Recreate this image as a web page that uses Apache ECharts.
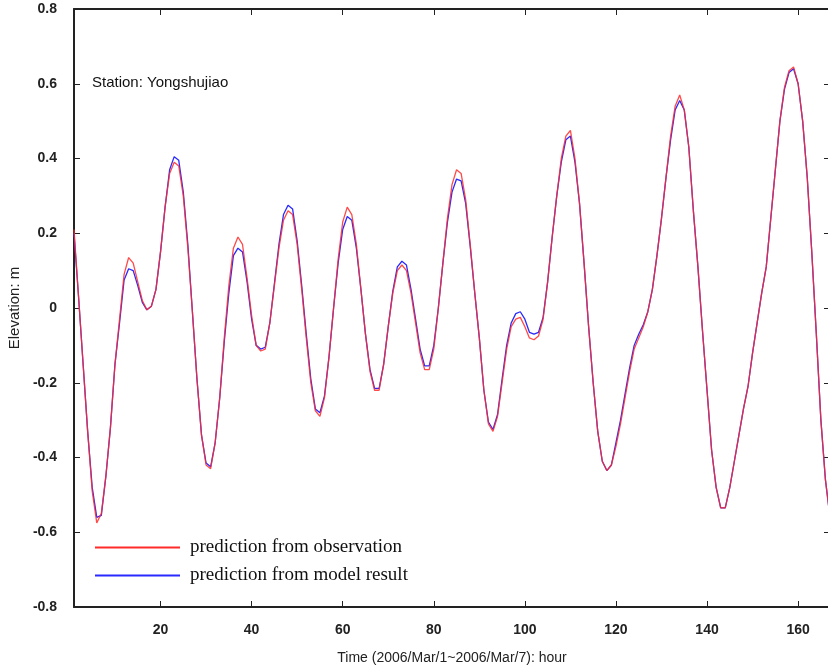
<!DOCTYPE html>
<html>
<head>
<meta charset="utf-8">
<script src="https://cdn.jsdelivr.net/npm/echarts@6/dist/echarts.min.js"></script>
<style>
html,body{margin:0;padding:0;background:#fff;}
#chart{width:828px;height:667px;}
</style>
</head>
<body>
<div id="chart"></div>
<script>
// Hours 1..167
const hours = [];
for (let h = 1; h <= 167; h++) hours.push(h);

const observation = [
  0.21, 0.03, -0.15, -0.33, -0.49, -0.575, -0.55, -0.45, -0.32, -0.15,
  -0.03, 0.09, 0.135, 0.12, 0.07, 0.02, -0.005, 0.005, 0.05, 0.15,
  0.27, 0.36, 0.39, 0.38, 0.30, 0.16, -0.01, -0.19, -0.34, -0.42,
  -0.43, -0.36, -0.24, -0.08, 0.06, 0.16, 0.19, 0.17, 0.08, -0.02,
  -0.10, -0.115, -0.11, -0.04, 0.06, 0.16, 0.235, 0.26, 0.25, 0.17,
  0.05, -0.08, -0.20, -0.275, -0.29, -0.24, -0.13, 0.0, 0.13, 0.23,
  0.27, 0.25, 0.17, 0.05, -0.07, -0.17, -0.22, -0.22, -0.15, -0.05,
  0.04, 0.10, 0.115, 0.10, 0.04, -0.04, -0.12, -0.165, -0.165, -0.11,
  0.0, 0.12, 0.24, 0.33, 0.37, 0.36, 0.29, 0.17, 0.04, -0.08,
  -0.22, -0.31, -0.33, -0.29, -0.20, -0.11, -0.05, -0.03, -0.025, -0.05,
  -0.08, -0.085, -0.075, -0.03, 0.07, 0.19, 0.30, 0.40, 0.46, 0.475,
  0.40, 0.28, 0.12, -0.05, -0.20, -0.33, -0.41, -0.435, -0.42, -0.37,
  -0.31, -0.24, -0.17, -0.11, -0.08, -0.05, -0.01, 0.05, 0.14, 0.24,
  0.35, 0.46, 0.54, 0.57, 0.53, 0.43, 0.26, 0.11, -0.06, -0.22,
  -0.38, -0.48, -0.535, -0.535, -0.48, -0.41, -0.34, -0.27, -0.21, -0.12,
  -0.04, 0.04, 0.11, 0.24, 0.37, 0.50, 0.59, 0.635, 0.645, 0.60,
  0.50, 0.35, 0.15, -0.07, -0.30, -0.46, -0.56
];

const model = [
  0.20, 0.03, -0.15, -0.33, -0.48, -0.56, -0.555, -0.45, -0.32, -0.15,
  -0.04, 0.075, 0.105, 0.10, 0.06, 0.015, -0.005, 0.005, 0.05, 0.15,
  0.27, 0.37, 0.405, 0.395, 0.31, 0.17, -0.01, -0.19, -0.34, -0.415,
  -0.425, -0.36, -0.24, -0.09, 0.04, 0.14, 0.16, 0.15, 0.07, -0.03,
  -0.10, -0.11, -0.105, -0.04, 0.065, 0.17, 0.25, 0.275, 0.265, 0.18,
  0.06, -0.07, -0.19, -0.27, -0.28, -0.235, -0.13, 0.0, 0.12, 0.21,
  0.245, 0.235, 0.16, 0.05, -0.07, -0.165, -0.215, -0.215, -0.15, -0.05,
  0.045, 0.11, 0.125, 0.115, 0.05, -0.03, -0.11, -0.155, -0.155, -0.10,
  0.0, 0.12, 0.23, 0.31, 0.345, 0.34, 0.28, 0.165, 0.04, -0.08,
  -0.22, -0.305, -0.325, -0.285, -0.19, -0.10, -0.04, -0.015, -0.01, -0.03,
  -0.065, -0.07, -0.065, -0.025, 0.07, 0.19, 0.30, 0.39, 0.45, 0.46,
  0.39, 0.28, 0.12, -0.05, -0.20, -0.33, -0.41, -0.435, -0.42, -0.36,
  -0.30, -0.23, -0.16, -0.10, -0.07, -0.045, -0.01, 0.05, 0.14, 0.24,
  0.35, 0.45, 0.53, 0.555, 0.53, 0.43, 0.26, 0.11, -0.06, -0.22,
  -0.38, -0.48, -0.535, -0.535, -0.48, -0.41, -0.34, -0.27, -0.21, -0.12,
  -0.04, 0.04, 0.11, 0.24, 0.37, 0.50, 0.585, 0.63, 0.64, 0.60,
  0.50, 0.35, 0.15, -0.07, -0.30, -0.46, -0.56
];

const xTicks = [20, 40, 60, 80, 100, 120, 140, 160];
const stationName = 'Station: Yongshujiao';
const seriesNames = ['prediction from observation', 'prediction from model result'];

const chart = echarts.init(document.getElementById('chart'), null, {renderer: 'canvas'});

const axisLineStyle = {color: '#222', width: 2};
const tickLabelStyle = {color: '#222', fontFamily: 'Liberation Sans, Arial, sans-serif', fontSize: 14, fontWeight: 'bold'};

const option = {
  backgroundColor: '#ffffff',
  animation: false,
  grid: {left: 74, right: -2, top: 9, bottom: 60, containLabel: false, outerBoundsMode: 'none'},
  legend: {
    orient: 'vertical',
    left: 95,
    top: 538,
    itemWidth: 85,
    itemHeight: 2,
    itemGap: 9,
    icon: 'rect',
    data: seriesNames,
    textStyle: {fontFamily: 'Liberation Serif, Times New Roman, serif', fontSize: 19, color: '#111', padding: [0,0,0,5]},
    padding: 0
  },
  xAxis: [
    {
      type: 'value', min: 1, max: 167, position: 'bottom',
      name: 'Time (2006/Mar/1~2006/Mar/7): hour',
      nameLocation: 'middle', nameGap: 44,
      nameTextStyle: {color: '#222', fontFamily: 'Liberation Sans, Arial, sans-serif', fontSize: 14},
      axisLine: {show: true, onZero: false, lineStyle: axisLineStyle},
      axisTick: {show: true, inside: true, length: 6, customValues: xTicks, lineStyle: {color: '#222', width: 1}},
      axisLabel: {show: true, customValues: xTicks, margin: 16, ...tickLabelStyle},
      splitLine: {show: false}
    },
    {
      type: 'value', min: 1, max: 167, position: 'top',
      axisLine: {show: true, onZero: false, lineStyle: axisLineStyle},
      axisTick: {show: true, inside: true, length: 6, customValues: xTicks, lineStyle: {color: '#222', width: 1}},
      axisLabel: {show: false},
      splitLine: {show: false}
    }
  ],
  yAxis: [
    {
      type: 'value', min: -0.8, max: 0.8, interval: 0.2, position: 'left',
      name: 'Elevation: m', nameLocation: 'middle', nameGap: 51, nameRotate: 90,
      nameTextStyle: {color: '#222', fontFamily: 'Liberation Sans, Arial, sans-serif', fontSize: 15},
      axisLine: {show: true, onZero: false, lineStyle: axisLineStyle},
      axisTick: {show: true, inside: true, length: 6, lineStyle: {color: '#222', width: 1}},
      axisLabel: {show: true, margin: 17, ...tickLabelStyle,
        formatter: v => (Math.abs(v) < 1e-9 ? '0' : (Math.round(v * 10) / 10).toString())},
      splitLine: {show: false}
    },
    {
      type: 'value', min: -0.8, max: 0.8, interval: 0.2, position: 'right',
      axisLine: {show: true, onZero: false, lineStyle: axisLineStyle},
      axisTick: {show: true, inside: true, length: 6, lineStyle: {color: '#222', width: 1}},
      axisLabel: {show: false},
      splitLine: {show: false}
    }
  ],
  graphic: [
    {
      type: 'text', left: 92, top: 75,
      style: {text: stationName, fill: '#111', font: '15px "Liberation Sans", Arial, sans-serif'}
    }
  ],
  series: [
    {
      name: seriesNames[1], type: 'line', xAxisIndex: 0, yAxisIndex: 0,
      data: hours.map((h, i) => [h, model[i]]),
      showSymbol: false, symbol: 'none',
      lineStyle: {color: '#2a2aff', width: 1.3},
      itemStyle: {color: '#2a2aff'},
      z: 2
    },
    {
      name: seriesNames[0], type: 'line', xAxisIndex: 0, yAxisIndex: 0,
      data: hours.map((h, i) => [h, observation[i]]),
      showSymbol: false, symbol: 'none',
      lineStyle: {color: '#ff2a2a', width: 1.3, opacity: 0.85},
      itemStyle: {color: '#ff2a2a'},
      z: 3
    }
  ]
};

chart.setOption(option);
</script>
</body>
</html>
